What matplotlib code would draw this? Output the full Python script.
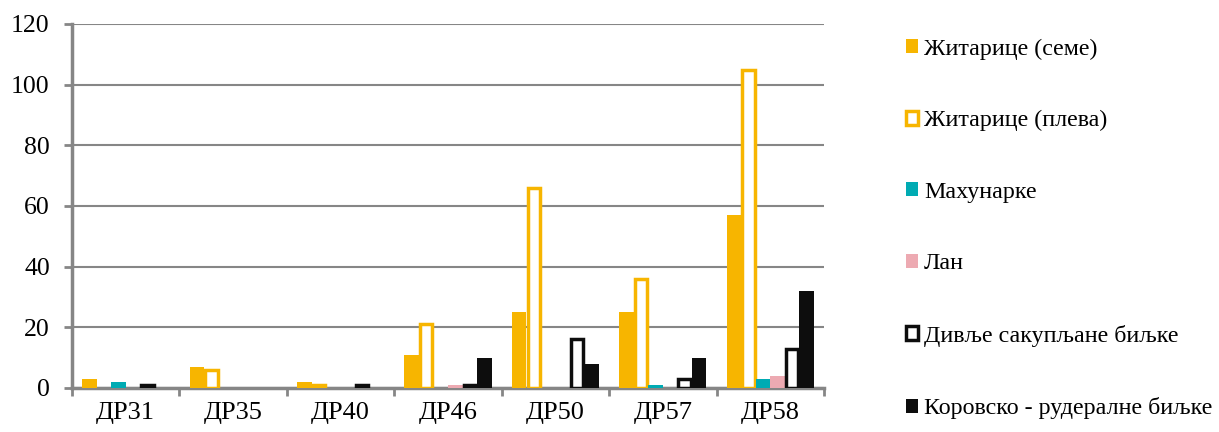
import numpy as np
import matplotlib
matplotlib.use("Agg")
import matplotlib.pyplot as plt
from matplotlib.patches import Patch

plt.rcParams['font.family'] = ['Liberation Serif', 'DejaVu Serif']

# data
samples = ['ДР31', 'ДР35', 'ДР40', 'ДР46', 'ДР50', 'ДР57', 'ДР58']
series_names = ['Житарице (семе)', 'Житарице (плева)', 'Махунарке', 'Лан',
                'Дивље сакупљане биљке', 'Коровско - рудералне биљке']
zitarice_seme = [3, 7, 2, 11, 25, 25, 57]
zitarice_pleva = [0, 6, 1, 21, 66, 36, 105]
mahunarke = [2, 0, 0, 0, 0, 1, 3]
lan = [0, 0, 0, 1, 0, 0, 4]
divlje = [1, 0, 1, 1, 16, 3, 13]
korovsko = [0, 0, 0, 10, 8, 10, 32]

values = [zitarice_seme, zitarice_pleva, mahunarke, lan, divlje, korovsko]
# (face, edge, linewidth) per series
styles = [('#F7B500', '#F7B500', 0.0),
          ('white', '#F7B500', 2.5),
          ('#00ABB3', '#00ABB3', 0.0),
          ('#EDAAB2', '#EDAAB2', 0.0),
          ('white', '#0D0D0D', 2.5),
          ('#0D0D0D', '#0D0D0D', 0.0)]

fig = plt.figure(figsize=(12.19, 4.32), dpi=100)
ax = fig.add_axes([72 / 1219, 1 - 388 / 432, 752 / 1219, 364 / 432])

x = np.arange(len(samples))
w = 0.135
for i, (vals, (fc, ec, lw)) in enumerate(zip(values, styles)):
    pos = x + (i - 2.5) * w
    for p, v in zip(pos, vals):
        if v <= 0:
            continue
        if lw > 0:
            # outline drawn inside the bar footprint
            ax.bar(p, v, w * 0.85, facecolor=fc, edgecolor=ec,
                   linewidth=lw, zorder=3)
        else:
            ax.bar(p, v, w, facecolor=fc, edgecolor=ec, linewidth=0, zorder=3)

ax.set_xlim(-0.5, len(samples) - 0.5)
ax.set_ylim(0, 120)
ax.set_yticks(np.arange(0, 121, 20))
ax.set_xticks(x)
ax.set_xticklabels(samples)
ax.set_xticks(np.arange(-0.5, len(samples)), minor=True)
ax.tick_params(axis='x', which='major', length=0, pad=10, labelsize=19)
ax.tick_params(axis='x', which='minor', length=6, width=2, color='#868686')
ax.tick_params(axis='y', length=6, width=2, color='#868686', labelsize=18.5, pad=10)

ax.yaxis.grid(True, color='#868686', linewidth=1.5, zorder=0)
ax.set_axisbelow(True)
for s in ['top', 'right']:
    ax.spines[s].set_visible(False)
for s in ['left', 'bottom']:
    ax.spines[s].set_color('#868686')
    ax.spines[s].set_linewidth(2.5)

handles = [Patch(facecolor=fc, edgecolor=ec, linewidth=2.5 if lw > 0 else 0)
           for fc, ec, lw in styles]
fig.legend(handles, series_names, loc='upper left',
           bbox_to_anchor=(896 / 1219, 1 - 29 / 432), frameon=False,
           fontsize=17.3, handlelength=0.52, handleheight=0.52,
           handletextpad=0.25, labelspacing=2.10, borderaxespad=0)

fig.savefig('out.png', dpi=100)
